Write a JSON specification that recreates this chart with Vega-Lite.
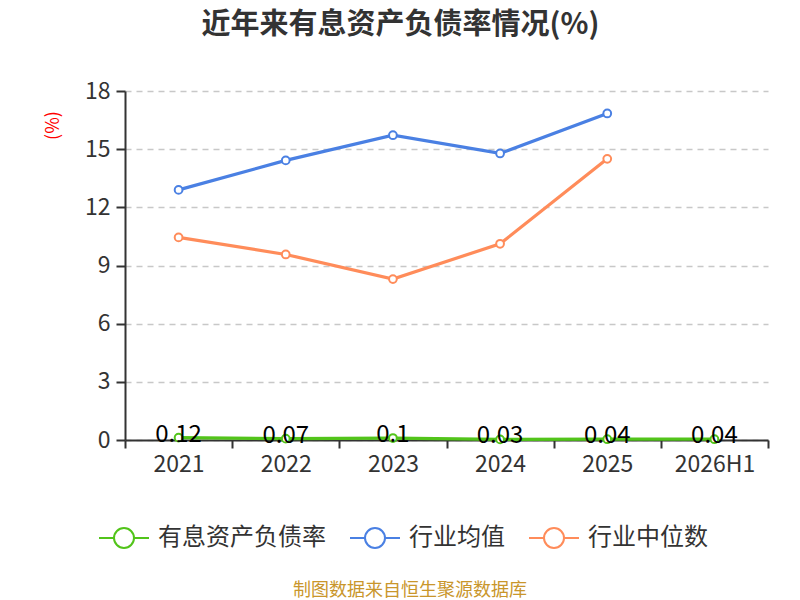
{
  "$schema": "https://vega.github.io/schema/vega-lite/v6.json",
  "autosize": {"type": "none"},
  "padding": {"left": 125, "top": 91, "right": 32, "bottom": 160},
  "width": 643,
  "height": 349,
  "background": "white",
  "config": {
    "font": "Noto Sans CJK SC",
    "view": {"stroke": null}
  },
  "title": {
    "text": "近年来有息资产负债率情况(%)",
    "fontSize": 29,
    "fontWeight": "bold",
    "color": "#333333",
    "anchor": "middle",
    "dx": -46,
    "offset": 40
  },
  "data": {
    "values": [
      {"year": "2021", "series": "有息资产负债率", "value": 0.12},
      {"year": "2022", "series": "有息资产负债率", "value": 0.07},
      {"year": "2023", "series": "有息资产负债率", "value": 0.1},
      {"year": "2024", "series": "有息资产负债率", "value": 0.03},
      {"year": "2025", "series": "有息资产负债率", "value": 0.04},
      {"year": "2026H1", "series": "有息资产负债率", "value": 0.04},
      {"year": "2021", "series": "行业均值", "value": 12.9},
      {"year": "2022", "series": "行业均值", "value": 14.42},
      {"year": "2023", "series": "行业均值", "value": 15.72},
      {"year": "2024", "series": "行业均值", "value": 14.78},
      {"year": "2025", "series": "行业均值", "value": 16.84},
      {"year": "2021", "series": "行业中位数", "value": 10.45},
      {"year": "2022", "series": "行业中位数", "value": 9.57},
      {"year": "2023", "series": "行业中位数", "value": 8.3},
      {"year": "2024", "series": "行业中位数", "value": 10.12},
      {"year": "2025", "series": "行业中位数", "value": 14.5}
    ]
  },
  "encoding": {
    "x": {
      "field": "year",
      "type": "ordinal",
      "sort": ["2021", "2022", "2023", "2024", "2025", "2026H1"],
      "scale": {"type": "band", "paddingInner": 0, "paddingOuter": 0},
      "axis": {
        "title": null,
        "labelAngle": 0,
        "labelFontSize": 23,
        "labelColor": "#333333",
        "labelPadding": 5,
        "domainColor": "#333333",
        "domainWidth": 2,
        "tickColor": "#333333",
        "tickWidth": 2,
        "tickSize": 8,
        "tickBand": "extent",
        "grid": false
      }
    },
    "y": {
      "field": "value",
      "type": "quantitative",
      "scale": {"domain": [0, 18], "nice": false},
      "axis": {
        "values": [0, 3, 6, 9, 12, 15, 18],
        "title": "(%)",
        "titleColor": "red",
        "titleFontSize": 18,
        "titleFontWeight": "normal",
        "titleAngle": -90,
        "titleX": -63,
        "titleY": 34,
        "labelFontSize": 23,
        "labelColor": "#333333",
        "labelPadding": 6,
        "domainColor": "#333333",
        "domainWidth": 2,
        "tickColor": "#333333",
        "tickWidth": 2,
        "tickSize": 9,
        "gridColor": "#c8c8c8",
        "gridDash": [6, 5],
        "gridWidth": 1.5
      }
    }
  },
  "layer": [
    {
      "mark": {
        "type": "line",
        "strokeWidth": 3.2,
        "point": {"filled": false, "fill": "white", "size": 60, "strokeWidth": 2}
      },
      "encoding": {
        "color": {
          "field": "series",
          "type": "nominal",
          "scale": {
            "domain": ["有息资产负债率", "行业均值", "行业中位数"],
            "range": ["#52c41a", "#4a80e3", "#ff8c5a"]
          },
          "legend": {
            "orient": "none",
            "legendX": -13,
            "legendY": 435,
            "direction": "horizontal",
            "title": "制图数据来自恒生聚源数据库",
            "titleOrient": "bottom",
            "titleAnchor": "middle",
            "titleColor": "#c9962b",
            "titleFontSize": 18,
            "titleFontWeight": "normal",
            "titleLimit": 600,
            "titlePadding": 30,
            "symbolType": "M-2.5,0H-1M1,0H2.5M-1,0A1,1,0,1,1,1,0A1,1,0,1,1,-1,0",
            "symbolSize": 400,
            "symbolStrokeWidth": 2,
            "symbolFillColor": "white",
            "labelFontSize": 24,
            "labelColor": "#333333",
            "labelOffset": 22,
            "labelLimit": 300,
            "columnPadding": 20
          }
        }
      }
    },
    {
      "transform": [{"filter": "datum.series == '有息资产负债率'"}],
      "mark": {"type": "text", "fontSize": 24, "color": "black", "baseline": "middle", "dy": -3},
      "encoding": {
        "text": {"field": "value", "type": "quantitative"}
      }
    }
  ]
}
